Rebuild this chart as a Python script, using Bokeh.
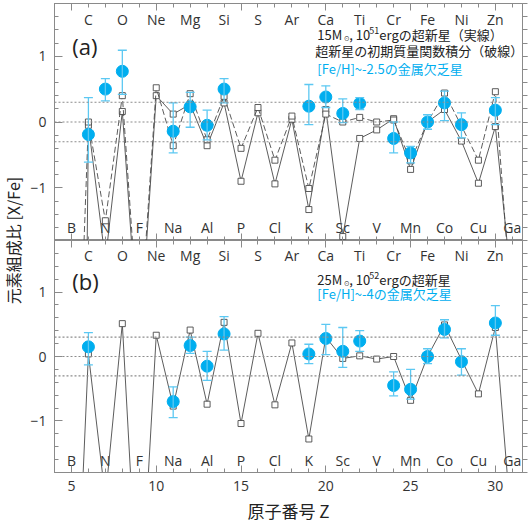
import math
import numpy as np
from bokeh.plotting import figure
from bokeh.models import (Range1d, FixedTicker, LinearAxis, Span, Label,
                          ColumnDataSource, Whisker, TeeHead)
from bokeh.layouts import row, column
from bokeh.embed import file_html
from bokeh.resources import INLINE
from bokeh.core.properties import value

# ---------------- data ----------------
Z = list(range(5, 32))
elements = ["B", "C", "N", "O", "F", "Ne", "Na", "Mg", "Al", "Si", "P", "S", "Cl", "Ar",
            "K", "Ca", "Sc", "Ti", "V", "Cr", "Mn", "Fe", "Co", "Ni", "Cu", "Zn", "Ga"]

# (a) 15 Msun, 1e51 erg supernova (solid)
model_a_solid = [-25.0, -0.05, -2.1, 0.16, -3.5, 0.40, 0.12, 0.27, -0.36, 0.29, -0.90, 0.14,
                 -0.94, 0.04, -1.33, 0.19, -1.74, -0.25, -0.12, 0.05, -0.72, 0.0, 0.19, -0.29,
                 -0.93, -0.07, -2.6]
# (a) IMF-integrated supernova yields (dashed)
model_a_dashed = [-7.0, 0.0, -1.5, 0.40, -3.3, 0.52, -0.36, 0.43, -0.27, 0.39, -0.40, 0.22,
                  -0.58, 0.09, -1.01, 0.12, 0.0, 0.07, 0.0, 0.03, -0.59, 0.0, 0.44, -0.06,
                  -0.58, 0.46, -3.0]
# (b) 25 Msun, 1e52 erg supernova
model_b = [-5.9, 0.04, -2.2, 0.51, -4.3, 0.33, -0.77, 0.41, -0.74, 0.53, -1.04, 0.36,
           -0.75, 0.21, -1.28, 0.30, -0.03, 0.01, -0.04, 0.0, -0.68, 0.0, 0.49, -0.05,
           -0.58, 0.45, -2.8]

# (a) stars with [Fe/H] ~ -2.5
obs_a_z = [6, 7, 8, 11, 12, 13, 14, 19, 20, 21, 22, 24, 25, 26, 27, 28, 30]
obs_a_val = [-0.19, 0.50, 0.77, -0.14, 0.23, -0.05, 0.50, 0.24, 0.38, 0.13, 0.28, -0.25,
             -0.47, 0.0, 0.29, -0.04, 0.18]
obs_a_lo = [-0.61, 0.32, 0.42, -0.47, -0.08, -0.27, 0.29, -0.04, 0.22, -0.01, 0.19, -0.47,
            -0.62, -0.11, 0.02, -0.24, -0.04]
obs_a_hi = [0.37, 0.66, 1.09, 0.29, 0.45, 0.18, 0.66, 0.57, 0.55, 0.35, 0.37, 0.0,
            -0.37, 0.11, 0.47, 0.14, 0.37]

# (b) stars with [Fe/H] ~ -4
obs_b_z = [6, 11, 12, 13, 14, 19, 20, 21, 22, 24, 25, 26, 27, 28, 30]
obs_b_val = [0.15, -0.70, 0.17, -0.15, 0.35, 0.04, 0.28, 0.08, 0.24, -0.45, -0.51, 0.0,
             0.42, -0.08, 0.52]
obs_b_lo = [-0.13, -0.95, 0.05, -0.37, 0.10, -0.11, 0.03, -0.17, 0.08, -0.61, -0.66, -0.11,
            0.29, -0.29, 0.33]
obs_b_hi = [0.37, -0.47, 0.30, 0.08, 0.62, 0.19, 0.50, 0.45, 0.40, -0.24, -0.20, 0.12,
            0.57, 0.12, 0.79]

x_major = [5, 10, 15, 20, 25, 30]
y_major = [-1, 0, 1]
ref_levels = [0.3, 0.0, -0.3]

# ---------------- style ----------------
AXIS = "#8a8a8a"
LINE = "#4a4a4a"
BLUE = "#00AEEF"
EBAR = "#5CC8F2"
TXT = "#333333"
JP = "Noto Sans CJK JP"
LAT = "Open Sans"

x_minor = list(range(4, 32))
y_minor = [round(v, 1) for v in np.arange(-1.8, 1.81, 0.2)]

STRIP_W = 24
PANEL_W = 528 - STRIP_W


def hide_labels(ax):
    ax.major_label_text_color = None
    ax.major_label_text_font_size = "1px"
    ax.major_label_standoff = 0


def style_axis(ax, tin, tout, min_in, min_out):
    ax.major_tick_in = tin
    ax.major_tick_out = tout
    ax.minor_tick_in = min_in
    ax.minor_tick_out = min_out
    ax.axis_line_color = AXIS
    ax.major_tick_line_color = AXIS
    ax.minor_tick_line_color = AXIS


def make_panel(height, b_top, b_bottom, bottom_labels):
    p = figure(width=PANEL_W, height=height, x_range=Range1d(4, 31.6),
               y_range=Range1d(-1.8, 1.8), output_backend="svg", toolbar_location=None,
               min_border_left=54 - STRIP_W, min_border_right=6, min_border_top=b_top,
               min_border_bottom=b_bottom, x_axis_location=None, y_axis_location=None)
    p.grid.visible = False
    p.outline_line_color = AXIS
    p.background_fill_color = "white"
    p.border_fill_color = "white"

    yl = LinearAxis(ticker=FixedTicker(ticks=y_major, minor_ticks=y_minor))
    style_axis(yl, 8, 0, 4, 0)
    yl.major_label_text_font = LAT
    yl.major_label_text_font_size = "14px"
    yl.major_label_text_color = TXT
    yl.major_label_standoff = 8
    p.add_layout(yl, "left")

    yr = LinearAxis(ticker=FixedTicker(ticks=y_major, minor_ticks=y_minor))
    style_axis(yr, 0, 5, 0, 5)
    hide_labels(yr)
    p.add_layout(yr, "right")

    xt = LinearAxis(ticker=FixedTicker(ticks=x_major, minor_ticks=x_minor))
    style_axis(xt, 7, 0, 4, 0)
    hide_labels(xt)
    p.add_layout(xt, "above")

    xb = LinearAxis(ticker=FixedTicker(ticks=x_major, minor_ticks=x_minor))
    style_axis(xb, 7, 0, 4, 0)
    if bottom_labels:
        xb.major_label_text_font = LAT
        xb.major_label_text_font_size = "14px"
        xb.major_label_text_color = TXT
        xb.major_label_standoff = 8
        xb.axis_label = "原子番号 Z"
        xb.axis_label_text_font = JP
        xb.axis_label_text_font_size = "17px"
        xb.axis_label_text_font_style = "normal"
        xb.axis_label_text_color = "#222222"
        xb.axis_label_standoff = 4
    else:
        hide_labels(xb)
    p.add_layout(xb, "below")

    for lv in ref_levels:
        p.add_layout(Span(location=lv, dimension="width", line_color="#8c8c8c",
                          line_dash="2 2", line_width=1.2))

    top_x = [z for z in Z if z % 2 == 0]
    top_t = [e for z, e in zip(Z, elements) if z % 2 == 0]
    bot_x = [z for z in Z if z % 2 == 1]
    bot_t = [e for z, e in zip(Z, elements) if z % 2 == 1]
    p.text(x=top_x, y=[1.56] * len(top_x), text=top_t, text_font=value(LAT),
           text_font_size=value("14px"), text_align="center", text_baseline="middle",
           text_color=TXT)
    p.text(x=bot_x, y=[-1.61] * len(bot_x), text=bot_t, text_font=value(LAT),
           text_font_size=value("14px"), text_align="center", text_baseline="middle",
           text_color=TXT)
    return p


def add_model(p, y, dash=None):
    kw = dict(line_color=LINE, line_width=0.9)
    if dash:
        kw["line_dash"] = dash
    p.line(Z, y, **kw)
    p.scatter(Z, y, marker="square", size=6, fill_color="white", line_color=LINE,
              line_width=0.9)


def add_obs(p, zs, vals, lo, hi):
    src = ColumnDataSource(dict(x=zs, y=vals, lo=lo, hi=hi))
    w = Whisker(base="x", upper="hi", lower="lo", source=src, line_color=EBAR, line_width=1.3,
                upper_head=TeeHead(size=9, line_color=EBAR, line_width=1.3),
                lower_head=TeeHead(size=9, line_color=EBAR, line_width=1.3))
    w.level = "glyph"
    p.add_layout(w)
    p.scatter("x", "y", source=src, size=12, fill_color=BLUE, line_color=BLUE)


def add_legend_line1(p, y, mass, energy_exp, tail):
    x0 = 19.5
    common = dict(x=x0, y=y, text_baseline="middle", text_font=JP, text_color="#222222")
    p.add_layout(Label(text=mass, x_offset=0, text_font_size="13px", **common))
    p.add_layout(Label(text="☉", x_offset=26, y_offset=-4, text_font_size="7px", **common))
    p.add_layout(Label(text=", 10", x_offset=32, text_font_size="13px", **common))
    p.add_layout(Label(text=energy_exp, x_offset=52, y_offset=4, text_font_size="9px", **common))
    p.add_layout(Label(text=tail, x_offset=62, text_font_size="13px", **common))


# ---------------- panel (a) ----------------
pa = make_panel(240, 3, 0, False)
add_model(pa, model_a_solid)
add_model(pa, model_a_dashed, dash="6 3")
add_obs(pa, obs_a_z, obs_a_val, obs_a_lo, obs_a_hi)
pa.add_layout(Label(x=5.05, y=1.15, text="(a)", text_font=LAT, text_font_size="22px",
                    text_baseline="middle", text_color="#222222"))
add_legend_line1(pa, 1.33, "15M", "51", "ergの超新星（実線）")
pa.add_layout(Label(x=19.5, y=1.08, x_offset=-2, text="超新星の初期質量関数積分（破線）",
                    text_font=JP, text_font_size="13px", text_baseline="middle",
                    text_color="#222222"))
pa.add_layout(Label(x=19.5, y=0.82, text="[Fe/H]~-2.5の金属欠乏星", text_font=JP,
                    text_font_size="13px", text_baseline="middle", text_color=BLUE))

# ---------------- panel (b) ----------------
pb = make_panel(285, 0, 48, True)
add_model(pb, model_b)
add_obs(pb, obs_b_z, obs_b_val, obs_b_lo, obs_b_hi)
pb.add_layout(Label(x=5.05, y=1.17, text="(b)", text_font=LAT, text_font_size="22px",
                    text_baseline="middle", text_color="#222222"))
add_legend_line1(pb, 1.20, "25M", "52", "ergの超新星")
pb.add_layout(Label(x=19.5, y=0.98, text="[Fe/H]~-4の金属欠乏星", text_font=JP,
                    text_font_size="13px", text_baseline="middle", text_color=BLUE))

# ---------------- y-axis title strip ----------------
lab = figure(width=STRIP_W, height=525, x_range=Range1d(0, STRIP_W), y_range=Range1d(525, 0),
             output_backend="svg", toolbar_location=None, min_border=0,
             x_axis_location=None, y_axis_location=None)
lab.outline_line_color = None
lab.grid.visible = False
lab.add_layout(Label(x=12, y=240, text="元素組成比 [X/Fe]", angle=math.pi / 2,
                     text_align="center", text_baseline="middle", text_font=JP,
                     text_font_size="16px", text_color="#222222"))

layout = row(lab, column(pa, pb))
open("out.html", "w").write(file_html(layout, INLINE))
